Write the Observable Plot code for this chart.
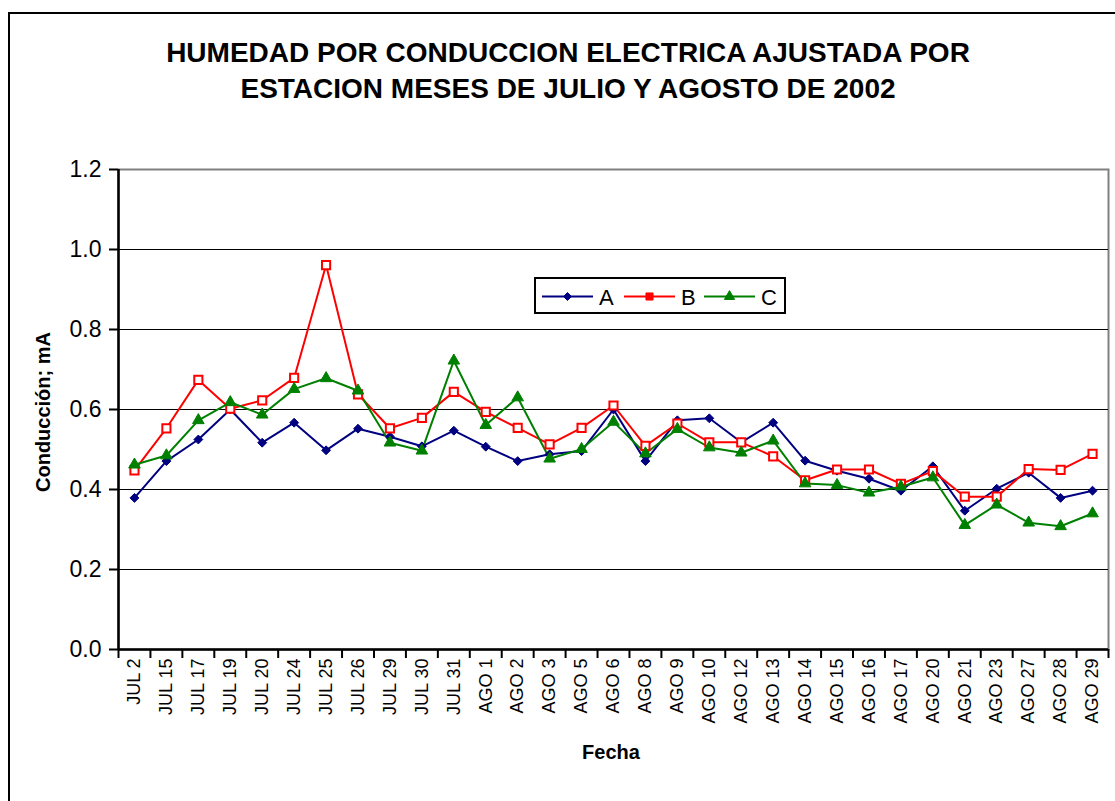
<!DOCTYPE html>
<html>
<head>
<meta charset="utf-8">
<script src="https://cdn.jsdelivr.net/npm/d3@7"></script>
<script src="https://cdn.jsdelivr.net/npm/@observablehq/plot@0.6"></script>
<style>
  body { margin: 0; background: #fff; font-family: "Liberation Sans", Arial, sans-serif; }
  #wrap { position: relative; width: 1115px; height: 801px; overflow: hidden; background: #fff; }
  #chart { position: absolute; left: 0; top: 0; }
  #frame { position: absolute; left: 8px; top: 12px; width: 2000px; height: 2000px;
           border-left: 2px solid #000; border-top: 2px solid #000; pointer-events: none; }
  #title { position: absolute; left: 0; top: 35px; width: 1136px; text-align: center;
           font-weight: bold; font-size: 28px; line-height: 36px; color: #000; }
  #ylab { position: absolute; left: 43px; top: 412px; transform: translate(-50%, -50%) rotate(-90deg);
          font-weight: bold; font-size: 20px; line-height: 20px; white-space: nowrap; }
  #xlab { position: absolute; left: 611px; top: 742px; transform: translateX(-50%);
          font-weight: bold; font-size: 20px; line-height: 20px; }
  #legend { position: absolute; left: 534px; top: 277px; }
</style>
</head>
<body>
<div id="wrap">
  <div id="chart"></div>
  <div id="frame"></div>
  <div id="title">HUMEDAD POR CONDUCCION ELECTRICA AJUSTADA POR<br>ESTACION MESES DE JULIO Y AGOSTO DE 2002</div>
  <div id="ylab">Conducción; mA</div>
  <div id="xlab">Fecha</div>
  <div id="legend"></div>
</div>
<script>
const categories = ["JUL 2","JUL 15","JUL 17","JUL 19","JUL 20","JUL 24","JUL 25","JUL 26","JUL 29","JUL 30","JUL 31",
  "AGO 1","AGO 2","AGO 3","AGO 5","AGO 6","AGO 8","AGO 9","AGO 10","AGO 12","AGO 13",
  "AGO 14","AGO 15","AGO 16","AGO 17","AGO 20","AGO 21","AGO 23","AGO 27","AGO 28","AGO 29"];

const serieA = [0.379,0.471,0.525,0.600,0.517,0.567,0.498,0.552,0.532,0.508,0.547,
  0.507,0.471,0.488,0.496,0.600,0.471,0.573,0.578,0.518,0.567,
  0.472,0.447,0.427,0.397,0.458,0.347,0.402,0.442,0.379,0.397];

const serieB = [0.448,0.553,0.674,0.602,0.623,0.679,0.961,0.638,0.553,0.579,0.644,
  0.594,0.554,0.513,0.554,0.610,0.509,0.565,0.518,0.518,0.483,
  0.423,0.450,0.450,0.414,0.446,0.382,0.382,0.451,0.449,0.489];

const serieC = [0.462,0.485,0.573,0.618,0.587,0.651,0.678,0.647,0.517,0.497,0.722,
  0.561,0.630,0.477,0.501,0.569,0.490,0.551,0.505,0.492,0.522,
  0.415,0.411,0.392,0.407,0.430,0.311,0.362,0.317,0.308,0.340];

const seriesNames = ["A", "B", "C"];
const yTicks = [0, 0.2, 0.4, 0.6, 0.8, 1.0, 1.2];
const gridVals = [0.2, 0.4, 0.6, 0.8, 1.0];

const colors = {A: "#000080", B: "#FF0000", C: "#008000"};

const rows = [];
[serieA, serieB, serieC].forEach((arr, s) => {
  arr.forEach((v, i) => rows.push({fecha: categories[i], serie: seriesNames[s], v}));
});
const rowsA = rows.filter(d => d.serie === "A");
const rowsB = rows.filter(d => d.serie === "B");
const rowsC = rows.filter(d => d.serie === "C");

const W = 1115, H = 801, ml = 118, mr = 7, mt = 169, mb = 152;
const step = (W - ml - mr) / categories.length;
const tickLen = 9 / ((H - mt - mb) / 1.2);

const chart = Plot.plot({
  width: W, height: H,
  marginLeft: ml, marginRight: mr, marginTop: mt, marginBottom: mb,
  style: {fontFamily: "'Liberation Sans', Arial, sans-serif", background: "transparent", color: "#000", overflow: "visible"},
  x: {type: "point", domain: categories, padding: 0.5, align: 0.5, round: false},
  y: {domain: [0, 1.2]},
  color: {domain: seriesNames, range: seriesNames.map(s => colors[s])},
  marks: [
    Plot.frame({stroke: "#808080", strokeWidth: 2}),
    Plot.ruleY(gridVals, {stroke: "#000", strokeWidth: 1}),
    Plot.ruleY([0], {stroke: "#000", strokeWidth: 2.5}),
    Plot.ruleX([categories[0]], {dx: -step / 2, stroke: "#000", strokeWidth: 2.5}),
    Plot.ruleX(categories, {x: d => d, y1: 0, y2: -tickLen, dx: step / 2, stroke: "#000", strokeWidth: 2}),
    Plot.ruleX([categories[0]], {x: d => d, y1: 0, y2: -tickLen, dx: -step / 2, stroke: "#000", strokeWidth: 2}),
    Plot.axisY({ticks: yTicks, tickFormat: d3.format(".1f"), tickSize: 9, tickPadding: 8, fontSize: 23, label: null, strokeWidth: 2}),
    Plot.axisX({tickRotate: -90, tickSize: 0, tickPadding: 9, fontSize: 18, label: null}),
    Plot.line(rows, {x: "fecha", y: "v", z: "serie", stroke: "serie", strokeWidth: 2}),
    Plot.dot(rowsA, {x: "fecha", y: "v", symbol: "diamond2", r: 4, fill: colors.A, stroke: colors.A, strokeWidth: 1}),
    Plot.dot(rowsB, {x: "fecha", y: "v", symbol: "square", r: 4.6, fill: "#fff", stroke: colors.B, strokeWidth: 2}),
    Plot.dot(rowsC, {x: "fecha", y: "v", symbol: "triangle", r: 4.3, fill: colors.C, stroke: colors.C, strokeWidth: 1})
  ]
});
document.getElementById("chart").appendChild(chart);

// Legend
const lg = d3.select("#legend").append("svg").attr("width", 252).attr("height", 37)
  .style("font-family", "'Liberation Sans', Arial, sans-serif");
lg.append("rect").attr("x", 1).attr("y", 1).attr("width", 250).attr("height", 35)
  .attr("fill", "#fff").attr("stroke", "#000").attr("stroke-width", 2);
const items = [
  {name: "A", x0: 8, sym: d3.symbolDiamond2, size: 40, fill: colors.A},
  {name: "B", x0: 90, sym: d3.symbolSquare, size: 50, fill: colors.B},
  {name: "C", x0: 170, sym: d3.symbolTriangle, size: 45, fill: colors.C}
];
items.forEach(it => {
  const cy = 19.5;
  lg.append("line").attr("x1", it.x0).attr("x2", it.x0 + 51).attr("y1", cy).attr("y2", cy)
    .attr("stroke", it.fill).attr("stroke-width", 2);
  lg.append("path").attr("d", d3.symbol(it.sym, it.size)()).attr("transform", `translate(${it.x0 + 25.5},${cy})`)
    .attr("fill", it.fill).attr("stroke", it.fill);
  lg.append("text").attr("x", it.x0 + 57).attr("y", cy + 8).attr("font-size", 22).text(it.name);
});
</script>
</body>
</html>
